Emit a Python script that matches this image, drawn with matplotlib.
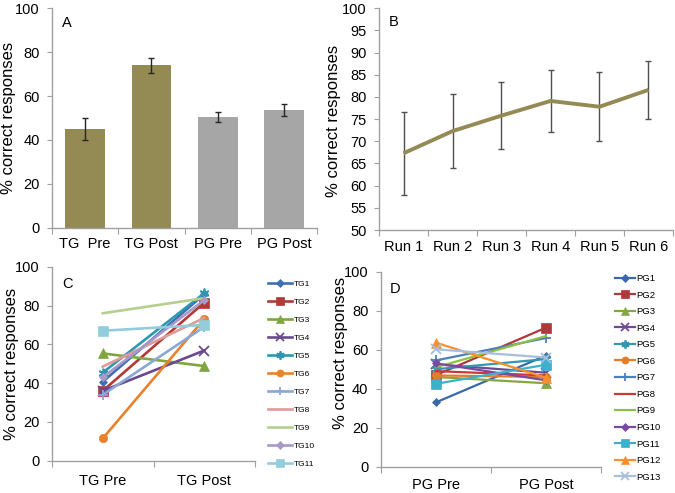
import matplotlib
matplotlib.use("Agg")
import matplotlib.pyplot as plt
import numpy as np

plt.rcParams['font.family'] = ['Liberation Sans', 'DejaVu Sans']

# ---- Panel A data ----
bar_labels = ["TG  Pre", "TG Post", "PG Pre", "PG Post"]
bar_values = [45.0, 74.0, 50.4, 53.8]
bar_errors = [5.2, 3.5, 2.4, 2.8]
bar_colors = ["#948A54", "#948A54", "#A6A6A6", "#A6A6A6"]

# ---- Panel B data ----
run_labels = ["Run 1", "Run 2", "Run 3", "Run 4", "Run 5", "Run 6"]
run_values = [67.3, 72.3, 75.8, 79.1, 77.8, 81.6]
run_errors = [9.3, 8.3, 7.6, 7.0, 7.8, 6.6]

# ---- Panel C data ----
tg_labels = ["TG Pre", "TG Post"]
tg_names = ["TG1", "TG2", "TG3", "TG4", "TG5", "TG6", "TG7", "TG8", "TG9", "TG10", "TG11"]
tg_pre = [40.7, 36.0, 55.3, 36.0, 45.4, 11.5, 34.0, 48.5, 76.0, 43.0, 67.0]
tg_post = [85.8, 81.5, 48.8, 56.8, 86.3, 73.0, 69.0, 73.6, 83.8, 82.8, 70.0]

# ---- Panel D data ----
pg_labels = ["PG Pre", "PG Post"]
pg_names = ["PG1", "PG2", "PG3", "PG4", "PG5", "PG6", "PG7", "PG8", "PG9",
            "PG10", "PG11", "PG12", "PG13"]
pg_pre = [33.0, 47.0, 46.0, 52.5, 50.0, 46.8, 54.5, 49.0, 51.0, 53.0, 42.5, 63.6, 60.2]
pg_post = [57.0, 71.3, 42.8, 48.2, 55.2, 46.0, 66.0, 46.8, 67.0, 44.3, 52.3, 45.6, 56.0]

# styles
tg_colors = ["#3F6FB2", "#B03A36", "#7FA640", "#6A4A8E", "#2E97B0", "#E8822E",
             "#8AA7D8", "#E09A98", "#B5CF8E", "#A999C8", "#92CDDC"]
pg_colors = ["#3A68A8", "#B0373A", "#83A843", "#6E4A94", "#3297AF", "#E07E2A",
             "#4C7EC0", "#C83A3A", "#8FC043", "#7A4AA0", "#3EB0CC", "#F7902C", "#A8BEDE"]
star = (6, 2, 0)
markers = ['D', 's', '^', 'x', star, 'o', '+', None, None, 'D', 's', '^', 'x']
msizes = [4.5, 6.5, 6.5, 7, 7, 6, 7, 0, 0, 4.5, 6.5, 6.5, 7]

W, H = 675, 493
fig = plt.figure(figsize=(W / 100, H / 100), dpi=100)

def px_axes(left, top, right, bottom):
    return fig.add_axes([left / W, 1 - bottom / H, (right - left) / W, (bottom - top) / H])

SPINE = "#A0A0A0"
TFS = 10.5   # tick label size
LFS = 12     # y label size

def style(ax, ncat, labels, ylim, yticks, ylab_x, ylab_y=0.5, xpad=7):
    for s in ["top", "right"]:
        ax.spines[s].set_visible(False)
    for s in ["left", "bottom"]:
        ax.spines[s].set_color(SPINE)
        ax.spines[s].set_linewidth(1.0)
    ax.set_xlim(-0.5, ncat - 0.5)
    ax.set_ylim(*ylim)
    ax.set_yticks(yticks)
    ax.tick_params(axis='y', length=3.5, color=SPINE, labelsize=TFS, pad=5.5)
    ax.set_xticks(np.arange(-0.5, ncat, 1.0))
    ax.set_xticklabels([])
    ax.tick_params(axis='x', which='major', length=4, color=SPINE)
    ax.set_xticks(np.arange(ncat), minor=True)
    ax.set_xticklabels(labels, minor=True)
    ax.tick_params(axis='x', which='minor', length=0, labelsize=TFS, pad=xpad)
    ax.set_ylabel("% correct responses", fontsize=LFS)
    ax.yaxis.set_label_coords(ylab_x, ylab_y)

# Panel A
axA = px_axes(52, 8.3, 317, 227.7)
xa = np.arange(len(bar_labels))
axA.bar(xa, bar_values, width=0.6, color=bar_colors, zorder=2)
axA.errorbar(xa, bar_values, yerr=bar_errors, fmt='none', ecolor='#262626',
             elinewidth=1, capsize=2.5, capthick=1, zorder=3)
style(axA, 4, bar_labels, (0, 100), range(0, 101, 20), (16 - 52) / 265)
axA.text(0.038, 0.965, "A", transform=axA.transAxes, fontsize=10.5, va='top')

# Panel B
axB = px_axes(379, 8.3, 673, 230)
xb = np.arange(len(run_labels))
axB.errorbar(xb, run_values, yerr=run_errors, fmt='none', ecolor='#505050',
             elinewidth=1, capsize=2.5, capthick=1, zorder=2)
axB.plot(xb, run_values, color='#948A54', lw=2.8, zorder=3, solid_capstyle='butt')
style(axB, 6, run_labels, (50, 100), range(50, 101, 5), (341 - 379) / 294, 0.49)
axB.text(0.034, 0.97, "B", transform=axB.transAxes, fontsize=10.5, va='top')

# Panel C
axC = px_axes(52, 266.7, 255, 460.7)
for i, nm in enumerate(tg_names):
    axC.plot([0, 1], [tg_pre[i], tg_post[i]], color=tg_colors[i], lw=1.9,
             marker=markers[i], markersize=msizes[i],
             markeredgewidth=1.3 if markers[i] in ('x', '+', star) else 0.5, label=nm)
style(axC, 2, tg_labels, (0, 100), range(0, 101, 20), (19 - 52) / 203, xpad=9.5)
axC.text(0.05, 0.945, "C", transform=axC.transAxes, fontsize=10.5, va='top')
axC.legend(loc='upper left', bbox_to_anchor=((268 - 52) / 203, (460.7 - 280) / 194),
           frameon=False, fontsize=6, handlelength=2.9, handletextpad=0.2,
           labelspacing=1.22, borderpad=0, borderaxespad=0, markerscale=0.85)

# Panel D
axD = px_axes(381, 271.7, 601, 466.7)
for i, nm in enumerate(pg_names):
    axD.plot([0, 1], [pg_pre[i], pg_post[i]], color=pg_colors[i], lw=1.6,
             marker=markers[i], markersize=msizes[i],
             markeredgewidth=1.3 if markers[i] in ('x', '+', star) else 0.5, label=nm)
style(axD, 2, pg_labels, (0, 100), range(0, 101, 20), (348 - 381) / 220, 0.585, xpad=8)
axD.text(0.041, 0.948, "D", transform=axD.transAxes, fontsize=10.5, va='top')
axD.legend(loc='upper left', bbox_to_anchor=((615 - 381) / 220, (466.7 - 274) / 195),
           frameon=False, fontsize=6.8, handlelength=2.1, handletextpad=0.2,
           labelspacing=0.8, borderpad=0, borderaxespad=0, markerscale=0.85)

fig.savefig("out.png", dpi=100)
